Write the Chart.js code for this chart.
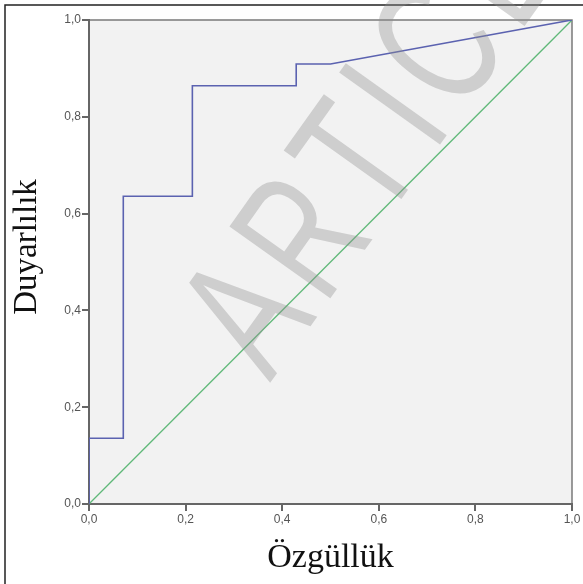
<!DOCTYPE html>
<html>
<head>
<meta charset="utf-8">
<script src="https://cdn.jsdelivr.net/npm/chart.js@4/dist/chart.umd.min.js"></script>
<style>
    html, body { margin: 0; padding: 0; background: #fff; }
    #wrap { width: 583px; height: 584px; }
</style>
</head>
<body>
<div id="wrap"><canvas id="rocChart" width="583" height="584"></canvas></div>
<script>
// ROC curve (1 - specificity on x, sensitivity on y)
const rocX = [0, 0, 0.071, 0.071, 0.214, 0.214, 0.429, 0.429, 0.5, 1.0];
const rocY = [0, 0.136, 0.136, 0.636, 0.636, 0.864, 0.864, 0.909, 0.909, 1.0];
const refX = [0, 1];
const refY = [0, 1];
const tickLabels = ['0,0', '0,2', '0,4', '0,6', '0,8', '1,0'];
const xTitle = 'Özgüllük';
const yTitle = 'Duyarlılık';
const watermark = 'ARTICLE';

function toPoints(xs, ys) {
    return xs.map((x, i) => ({ x: x, y: ys[i] }));
}

// plot background, plot frame and the outer frame of the figure
const framePlugin = {
    id: 'framePlugin',
    beforeDraw(chart) {
        const { ctx, chartArea: a } = chart;
        ctx.save();
        ctx.fillStyle = '#f2f2f2';
        ctx.fillRect(a.left, a.top, a.right - a.left, a.bottom - a.top);
        ctx.strokeStyle = '#7a7a7a';
        ctx.lineWidth = 1.5;
        ctx.beginPath();
        ctx.moveTo(a.left, a.top);
        ctx.lineTo(a.right, a.top);
        ctx.lineTo(a.right, a.bottom);
        ctx.stroke();
        // outer figure frame (left and top only, rest is cropped)
        ctx.strokeStyle = '#222';
        ctx.lineWidth = 1.5;
        ctx.beginPath();
        ctx.moveTo(5, chart.height);
        ctx.lineTo(5, 5);
        ctx.lineTo(chart.width, 5);
        ctx.stroke();
        ctx.restore();
    },
    afterDraw(chart) {
        const ctx = chart.ctx;
        // y axis title
        ctx.save();
        ctx.translate(27, 247);
        ctx.rotate(-Math.PI / 2);
        ctx.font = '33px "Liberation Serif", "Times New Roman", serif';
        ctx.fillStyle = '#111';
        ctx.textAlign = 'center';
        ctx.textBaseline = 'middle';
        ctx.fillText(yTitle, 0, 0);
        ctx.restore();
        // diagonal watermark, letter by letter with extra spacing
        ctx.save();
        ctx.translate(270, 383);
        ctx.rotate(-54.5 * Math.PI / 180);
        ctx.scale(0.68, 1);
        ctx.font = '180px "Liberation Sans", Arial, sans-serif';
        ctx.fillStyle = 'rgba(140,140,140,0.36)';
        ctx.textAlign = 'left';
        ctx.textBaseline = 'alphabetic';
        let pos = 0;
        for (const ch of watermark) {
            ctx.fillText(ch, pos, 0);
            pos += ctx.measureText(ch).width + 18;
        }
        ctx.restore();
    }
};

const tickFont = { family: '"Liberation Sans", Arial, sans-serif', size: 12 };

new Chart(document.getElementById('rocChart'), {
    type: 'scatter',
    data: {
        datasets: [{
            label: 'ROC',
            data: toPoints(rocX, rocY),
            showLine: true,
            borderColor: '#5b62b0',
            borderWidth: 1.6,
            pointRadius: 0,
            tension: 0
        }, {
            label: 'Referans',
            data: toPoints(refX, refY),
            showLine: true,
            borderColor: '#5fb878',
            borderWidth: 1.3,
            pointRadius: 0
        }]
    },
    options: {
        responsive: false,
        animation: false,
        layout: { padding: { top: 20, right: 11, left: 0, bottom: 0 } },
        plugins: {
            legend: { display: false },
            tooltip: { enabled: false }
        },
        scales: {
            x: {
                type: 'linear',
                min: 0,
                max: 1,
                afterFit(scale) { scale.height = 80; },
                ticks: {
                    stepSize: 0.2,
                    maxRotation: 0,
                    padding: 1,
                    color: '#555',
                    font: tickFont,
                    callback: (v, i) => tickLabels[i]
                },
                grid: { drawOnChartArea: false, drawTicks: true, tickLength: 7, color: '#666', lineWidth: 2 },
                border: { display: true, color: '#666', width: 2 },
                title: {
                    display: true,
                    text: xTitle,
                    color: '#111',
                    font: { family: '"Liberation Serif", "Times New Roman", serif', size: 34 },
                    padding: { top: 0, bottom: 6 }
                }
            },
            y: {
                type: 'linear',
                min: 0,
                max: 1,
                afterFit(scale) { scale.width = 89; },
                ticks: {
                    stepSize: 0.2,
                    padding: 1,
                    color: '#555',
                    font: tickFont,
                    callback: (v, i) => tickLabels[i]
                },
                grid: { drawOnChartArea: false, drawTicks: true, tickLength: 7, color: '#666', lineWidth: 2 },
                border: { display: true, color: '#666', width: 2 }
            }
        }
    },
    plugins: [framePlugin]
});
</script>
</body>
</html>
